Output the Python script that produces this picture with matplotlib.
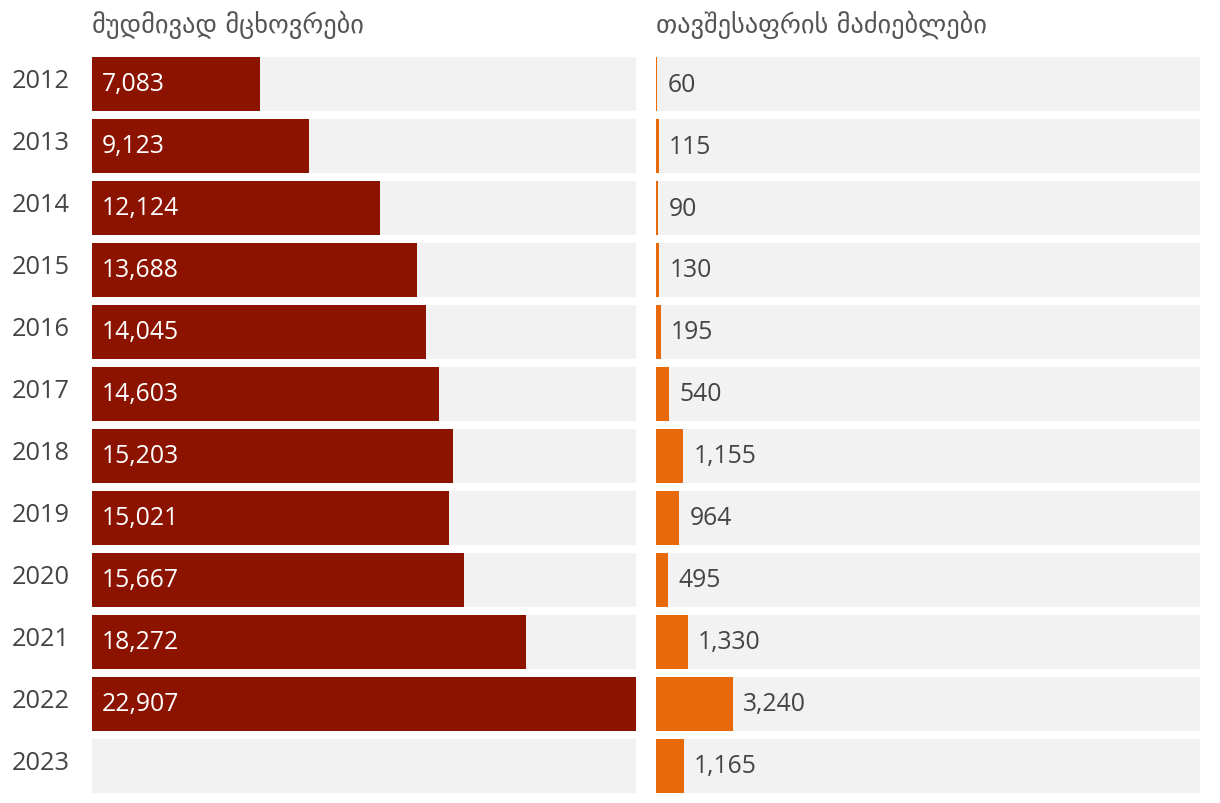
import matplotlib.pyplot as plt

years = ['2012', '2013', '2014', '2015', '2016', '2017', '2018', '2019', '2020', '2021', '2022', '2023']
residents = [7083, 9123, 12124, 13688, 14045, 14603, 15203, 15021, 15667, 18272, 22907, None]
asylum = [60, 115, 90, 130, 195, 540, 1155, 964, 495, 1330, 3240, 1165]
titles = ['მუდმივად მცხოვრები', 'თავშესაფრის მაძიებლები']

plt.rcParams['font.family'] = ['Open Sans', 'DejaVu Sans']

W, H = 1220, 804
fig = plt.figure(figsize=(W / 100, H / 100), dpi=100)

xmax = 22907
bg = '#f2f2f2'
txt = '#444444'


def panel(x0, vals, color, inside, title):
    ax = fig.add_axes([x0 / W, 1 - 798 / H, 544 / W, 744 / H])
    ys = range(len(years))
    ax.barh(ys, [xmax] * len(years), height=54 / 62, color=bg, linewidth=0)
    for i, v in enumerate(vals):
        if v is None:
            continue
        ax.barh(i, v, height=54 / 62, color=color, linewidth=0)
        lab = f'{v:,}'
        if inside:
            ax.annotate(lab, (0, i), xytext=(7.2, 0), textcoords='offset points',
                        va='center', ha='left', color='white', fontsize=17.8)
        else:
            ax.annotate(lab, (v, i), xytext=(7.5, 0), textcoords='offset points',
                        va='center', ha='left', color=txt, fontsize=17.8)
    ax.set_xlim(0, xmax)
    ax.set_ylim(len(years) - 0.5, -0.5)
    ax.axis('off')
    fig.text(x0 / W, 1 - 25 / H, title, ha='left', va='center', fontsize=19,
             color='#555555', family=['DejaVu Sans'])
    return ax


axl = panel(92, residents, '#8b1300', True, titles[0])
axr = panel(656, asylum, '#e8690a', False, titles[1])

for i, y in enumerate(years):
    axl.annotate(y, (0, i), xytext=(-80 * 0.72, 2.5), textcoords='offset points',
                 va='center', ha='left', color=txt, fontsize=18.3,
                 annotation_clip=False)

fig.savefig('out.png', dpi=100)
